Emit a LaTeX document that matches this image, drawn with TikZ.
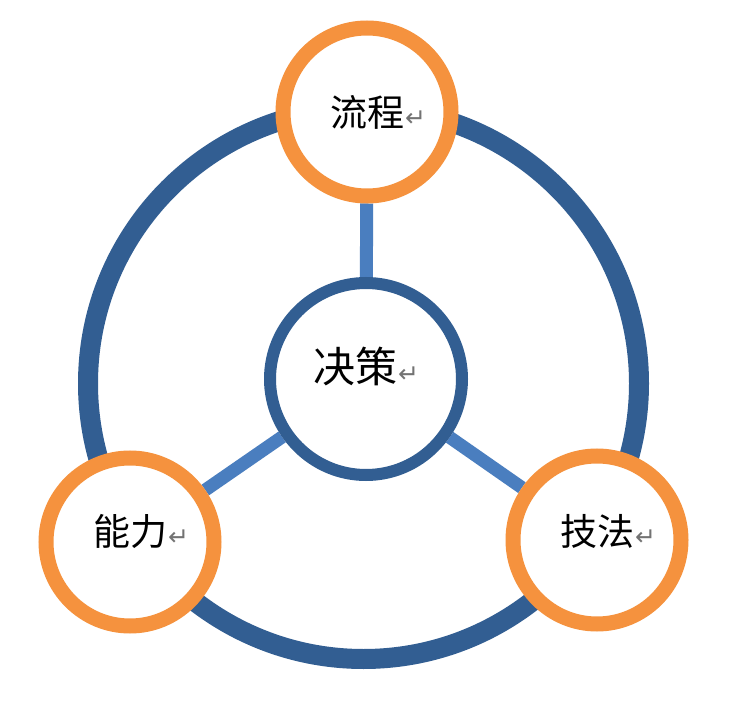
\documentclass[tikz,border=0pt]{standalone}
\usepackage{fontspec}
\newfontfamily\cjk{Noto Sans CJK SC}
\newfontfamily\symfont{DejaVu Sans}
\usetikzlibrary{backgrounds}

\definecolor{ringblue}{HTML}{325E92}
\definecolor{linkblue}{HTML}{4A7EBF}
\definecolor{ringorange}{HTML}{F5923E}
\newcommand{\retmark}{{\symfont\fontsize{25}{25}\selectfont\color{black!55}↵}}

\begin{document}
\begin{tikzpicture}[x=1pt, y=-1pt,
    hub/.style={circle, draw=ringblue, line width=12pt, fill=white,
                minimum size=192pt, inner sep=0pt},
    leaf/.style={circle, draw=ringorange, line width=15pt, fill=white,
                 minimum size=168pt, inner sep=0pt},
    link/.style={draw=linkblue, line width=13pt},
    rim/.style={draw=ringblue, line width=20pt},
    word/.style={font=\cjk\fontsize{37}{37}\selectfont, inner sep=0pt},
  ]
  \useasboundingbox (0,0) rectangle (750,703);

  % Centre and the three outer circles
  \node[hub] (ctr) at (366,379) {};
  \node[leaf] (proc) at (367,112) {};
  \node[leaf] (abil) at (130,542) {};
  \node[leaf] (tech) at (597,540) {};

  % Big ring and spokes behind the circles
  \begin{scope}[on background layer]
    \fill[white] (0,0) rectangle (750,703);
    \draw[rim] (363.5,383.5) circle[radius=275.5];
    \draw[link] (ctr) -- (proc);
    \draw[link] (ctr) -- (abil);
    \draw[link] (ctr) -- (tech);
  \end{scope}

  % Labels
  \node[word, font=\cjk\fontsize{42}{42}\selectfont] (ctrTxt) at ([yshift=13pt]ctr) {决策\kern1pt\retmark};
  \node[word] (procTxt) at (proc) {流程\rlap{\kern1pt\retmark}};
  \node[word] (abilTxt) at ([yshift=11pt]abil) {能力\rlap{\kern1pt\retmark}};
  \node[word] (techTxt) at ([yshift=9pt]tech) {技法\rlap{\kern1pt\retmark}};

\end{tikzpicture}
\end{document}
